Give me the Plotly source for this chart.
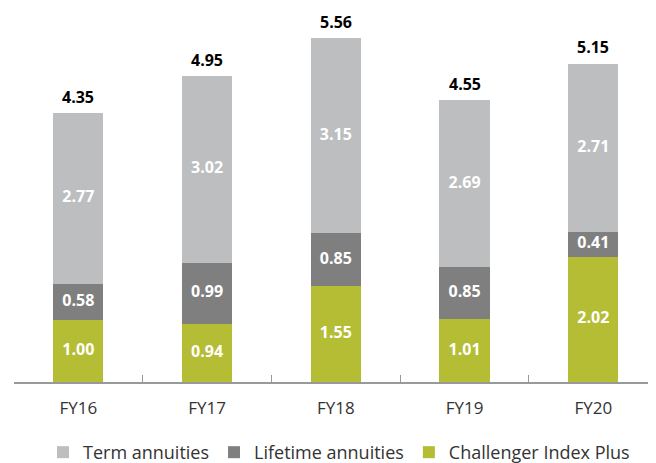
import plotly.graph_objects as go

years = ["FY16", "FY17", "FY18", "FY19", "FY20"]
challenger_index_plus = [1.00, 0.94, 1.55, 1.01, 2.02]
lifetime_annuities = [0.58, 0.99, 0.85, 0.85, 0.41]
term_annuities = [2.77, 3.02, 3.15, 2.69, 2.71]
totals = [4.35, 4.95, 5.56, 4.55, 5.15]

FONT = "Open Sans, Noto Sans, sans-serif"

series = [
    ("Challenger Index Plus", challenger_index_plus, "#B5BD34"),
    ("Lifetime annuities", lifetime_annuities, "#7F7F7F"),
    ("Term annuities", term_annuities, "#BDBEC0"),
]

fig = go.Figure()
base = [0.0] * len(years)
for name, values, color in series:
    fig.add_trace(
        go.Bar(
            x=years,
            y=values,
            name=name,
            marker={"color": color, "line": {"width": 0}},
            width=0.39,
            hoverinfo="skip",
        )
    )
    # segment labels drawn as text at the middle of each stacked piece,
    # so thin segments keep full-size labels
    fig.add_trace(
        go.Scatter(
            x=years,
            y=[b + v / 2 for b, v in zip(base, values)],
            mode="text",
            text=[f"{v:.2f}" for v in values],
            textposition="middle center",
            textfont={"family": FONT, "size": 16, "color": "white", "weight": "bold"},
            showlegend=False,
            hoverinfo="skip",
        )
    )
    base = [b + v for b, v in zip(base, values)]

for year, total in zip(years, totals):
    fig.add_annotation(
        x=year,
        y=total,
        text=f"<b>{total:.2f}</b>",
        showarrow=False,
        yanchor="bottom",
        yshift=3,
        font={"family": FONT, "size": 16, "color": "black"},
    )

# page body adds an 8px offset, so margins are shifted to compensate
fig.update_layout(
    width=656,
    height=463,
    barmode="stack",
    plot_bgcolor="white",
    paper_bgcolor="white",
    margin={"l": 6, "r": 0, "t": 2, "b": 89},
    font={"family": FONT, "size": 16, "color": "#333333"},
    legend={
        "orientation": "h",
        "traceorder": "reversed",
        "x": 0.5,
        "xanchor": "center",
        "yref": "container",
        "y": 0.04,
        "yanchor": "middle",
        "font": {"family": FONT, "size": 18, "color": "#333333"},
        "itemwidth": 30,
    },
)
fig.update_xaxes(
    range=[-0.5, 4.549],
    showline=True,
    linecolor="#999999",
    linewidth=2,
    ticks="inside",
    tickson="boundaries",
    ticklen=7,
    tickcolor="#999999",
    tickwidth=1,
    ticklabelstandoff=10,
    tickfont={"family": FONT, "size": 17, "color": "#333333"},
    showgrid=False,
)
fig.update_yaxes(range=[0, 6.01], visible=False, showgrid=False)

fig.write_html("out.html")
